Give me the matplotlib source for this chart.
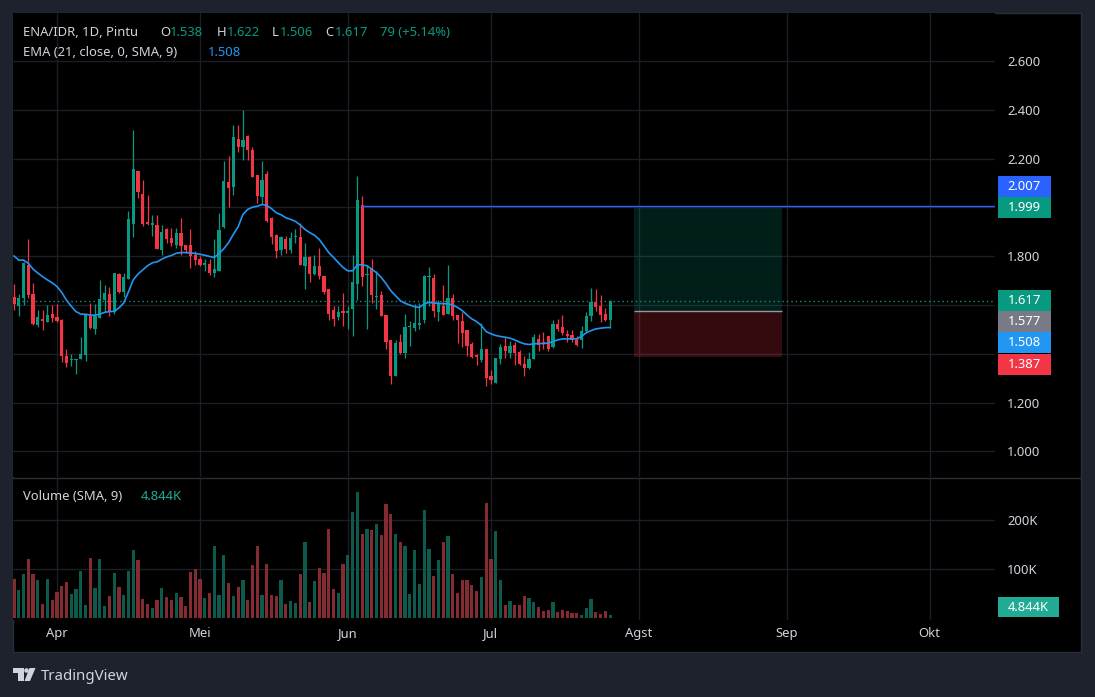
import pandas as pd
import matplotlib
matplotlib.use('Agg')
import matplotlib.pyplot as plt
import matplotlib.dates as mdates
from matplotlib.patches import Rectangle, Polygon, Ellipse
from matplotlib.lines import Line2D
from matplotlib.transforms import blended_transform_factory

plt.rcParams['font.family'] = ['Noto Sans', 'DejaVu Sans']

# ENA/IDR daily candles, 23 Mar - 26 Jul
first_day = '2024-03-23'
opens = [1.631, 1.597, 1.629, 1.765, 1.645, 1.520, 1.543, 1.532, 1.563, 1.550,
         1.540, 1.390, 1.374, 1.373, 1.377, 1.397, 1.556, 1.502, 1.547, 1.620,
         1.645, 1.570, 1.727, 1.652, 1.706, 1.933, 2.148, 2.057, 1.942, 1.930,
         1.930, 1.826, 1.910, 1.873, 1.846, 1.894, 1.846, 1.846, 1.805, 1.788,
         1.765, 1.767, 1.733, 1.740, 1.920, 2.103, 2.083, 2.282, 2.246, 2.291,
         2.237, 2.131, 2.042, 2.135, 1.955, 1.886, 1.826, 1.869, 1.824, 1.877,
         1.879, 1.761, 1.795, 1.727, 1.761, 1.720, 1.665, 1.580, 1.551, 1.573,
         1.569, 1.585, 1.686, 2.011, 1.722, 1.750, 1.631, 1.639, 1.559, 1.458,
         1.307, 1.450, 1.404, 1.508, 1.506, 1.520, 1.538, 1.713, 1.710, 1.572,
         1.595, 1.565, 1.629, 1.559, 1.533, 1.498, 1.441, 1.394, 1.376, 1.420,
         1.307, 1.281, 1.380, 1.434, 1.405, 1.437, 1.407, 1.359, 1.343, 1.377,
         1.461, 1.448, 1.473, 1.427, 1.522, 1.509, 1.482, 1.478, 1.458, 1.455,
         1.492, 1.557, 1.611, 1.594, 1.563, 1.538]
highs = [1.686, 1.645, 1.778, 1.869, 1.690, 1.580, 1.580, 1.600, 1.600, 1.604,
         1.543, 1.420, 1.400, 1.380, 1.468, 1.563, 1.608, 1.604, 1.702, 1.682,
         1.672, 1.733, 1.733, 1.733, 1.985, 2.318, 2.148, 2.114, 2.053, 1.971,
         1.967, 1.927, 1.917, 1.917, 1.917, 1.955, 1.846, 1.910, 1.822, 1.801,
         1.790, 1.788, 1.872, 1.978, 2.192, 2.212, 2.339, 2.339, 2.400, 2.298,
         2.248, 2.131, 2.189, 2.148, 1.961, 1.890, 1.884, 1.884, 1.901, 1.913,
         1.937, 1.856, 1.801, 1.804, 1.833, 1.720, 1.665, 1.594, 1.594, 1.651,
         1.594, 1.803, 2.128, 2.045, 1.763, 1.787, 1.739, 1.657, 1.559, 1.458,
         1.458, 1.481, 1.563, 1.536, 1.604, 1.608, 1.722, 1.754, 1.726, 1.622,
         1.683, 1.763, 1.645, 1.559, 1.572, 1.498, 1.450, 1.400, 1.527, 1.420,
         1.333, 1.384, 1.441, 1.468, 1.454, 1.448, 1.414, 1.393, 1.407, 1.481,
         1.481, 1.490, 1.473, 1.540, 1.543, 1.559, 1.498, 1.498, 1.473, 1.512,
         1.570, 1.669, 1.667, 1.640, 1.587, 1.622]
lows = [1.581, 1.556, 1.601, 1.629, 1.518, 1.509, 1.499, 1.529, 1.529, 1.529,
        1.366, 1.346, 1.352, 1.316, 1.377, 1.370, 1.502, 1.480, 1.547, 1.570,
        1.554, 1.563, 1.649, 1.634, 1.706, 1.880, 2.039, 1.924, 1.930, 1.883,
        1.829, 1.805, 1.856, 1.842, 1.833, 1.805, 1.812, 1.751, 1.765, 1.761,
        1.740, 1.724, 1.716, 1.738, 1.917, 2.001, 2.051, 2.227, 2.196, 2.196,
        2.124, 2.019, 2.015, 1.942, 1.849, 1.791, 1.805, 1.815, 1.815, 1.856,
        1.765, 1.665, 1.696, 1.721, 1.706, 1.645, 1.537, 1.516, 1.540, 1.516,
        1.502, 1.474, 1.621, 1.676, 1.502, 1.608, 1.584, 1.556, 1.418, 1.277,
        1.307, 1.401, 1.382, 1.434, 1.493, 1.502, 1.527, 1.595, 1.550, 1.535,
        1.558, 1.565, 1.538, 1.444, 1.429, 1.391, 1.384, 1.353, 1.366, 1.268,
        1.277, 1.281, 1.360, 1.382, 1.382, 1.353, 1.356, 1.307, 1.336, 1.377,
        1.411, 1.420, 1.411, 1.424, 1.495, 1.476, 1.448, 1.448, 1.434, 1.424,
        1.488, 1.536, 1.576, 1.531, 1.536, 1.506]
closes = [1.604, 1.627, 1.774, 1.642, 1.521, 1.550, 1.536, 1.559, 1.547, 1.533,
          1.389, 1.363, 1.378, 1.380, 1.400, 1.559, 1.505, 1.554, 1.624, 1.649,
          1.570, 1.733, 1.652, 1.713, 1.951, 2.159, 2.063, 1.933, 1.931, 1.932,
          1.829, 1.901, 1.869, 1.853, 1.894, 1.842, 1.826, 1.801, 1.785, 1.765,
          1.774, 1.733, 1.747, 1.906, 2.107, 2.078, 2.287, 2.246, 2.278, 2.237,
          2.124, 2.046, 2.114, 1.944, 1.879, 1.822, 1.879, 1.829, 1.873, 1.879,
          1.765, 1.795, 1.727, 1.761, 1.720, 1.653, 1.564, 1.543, 1.570, 1.569,
          1.575, 1.694, 2.031, 1.714, 1.728, 1.639, 1.635, 1.556, 1.450, 1.307,
          1.445, 1.405, 1.509, 1.510, 1.527, 1.527, 1.717, 1.716, 1.577, 1.603,
          1.561, 1.629, 1.555, 1.540, 1.486, 1.434, 1.387, 1.387, 1.420, 1.302,
          1.291, 1.384, 1.427, 1.411, 1.434, 1.405, 1.359, 1.343, 1.380, 1.468,
          1.438, 1.441, 1.418, 1.522, 1.502, 1.485, 1.475, 1.455, 1.438, 1.492,
          1.554, 1.614, 1.593, 1.560, 1.538, 1.617]
volumes_k = [79, 56, 89, 120, 89, 77, 28, 79, 36, 52,
             65, 73, 48, 58, 95, 26, 122, 61, 120, 24,
             44, 91, 63, 46, 95, 138, 118, 38, 28, 20,
             36, 61, 42, 36, 50, 42, 24, 93, 99, 79,
             40, 50, 146, 46, 128, 71, 44, 63, 77, 36,
             107, 146, 46, 110, 46, 44, 77, 28, 34, 30,
             89, 154, 32, 75, 101, 91, 181, 58, 50, 110,
             128, 216, 256, 171, 181, 179, 191, 169, 232, 212,
             171, 154, 146, 48, 138, 69, 220, 140, 85, 118,
             154, 167, 89, 50, 77, 77, 67, 54, 83, 234,
             120, 177, 77, 26, 34, 26, 26, 44, 40, 32,
             22, 14, 16, 32, 12, 16, 14, 10, 10, 5,
             20, 38, 12, 7, 14, 4.844]
ema21 = [1.801, 1.784, 1.784, 1.771, 1.747, 1.731, 1.716, 1.703, 1.691, 1.676,
         1.652, 1.620, 1.595, 1.573, 1.563, 1.562, 1.559, 1.558, 1.563, 1.570,
         1.573, 1.574, 1.588, 1.608, 1.654, 1.703, 1.727, 1.744, 1.761, 1.773,
         1.777, 1.788, 1.797, 1.803, 1.812, 1.815, 1.815, 1.814, 1.811, 1.808,
         1.804, 1.799, 1.795, 1.811, 1.831, 1.856, 1.890, 1.921, 1.971, 1.992,
         2.001, 2.005, 2.012, 2.008, 1.995, 1.978, 1.970, 1.958, 1.951, 1.943,
         1.928, 1.910, 1.897, 1.886, 1.869, 1.842, 1.815, 1.795, 1.774, 1.754,
         1.740, 1.740, 1.765, 1.765, 1.761, 1.747, 1.733, 1.713, 1.688, 1.659,
         1.638, 1.618, 1.607, 1.600, 1.593, 1.590, 1.604, 1.611, 1.608, 1.607,
         1.605, 1.605, 1.600, 1.590, 1.577, 1.559, 1.543, 1.532, 1.516, 1.491,
         1.482, 1.475, 1.471, 1.468, 1.464, 1.457, 1.448, 1.441, 1.438, 1.441,
         1.442, 1.442, 1.444, 1.450, 1.457, 1.461, 1.461, 1.461, 1.461, 1.472,
         1.486, 1.495, 1.502, 1.505, 1.507, 1.508]

alert_level = 2.007
alert_from = 73            # candle where the horizontal line starts
entry, target, stop = 1.577, 1.999, 1.387
pos_start, pos_end = '2024-07-31', '2024-08-31'

month_ticks = ['2024-04-01', '2024-05-01', '2024-06-01', '2024-07-01',
               '2024-08-01', '2024-09-01', '2024-10-01']
month_labels = ['Apr', 'Mei', 'Jun', 'Jul', 'Agst', 'Sep', 'Okt']
price_ticks = [1.0, 1.2, 1.4, 1.6, 1.8, 2.0, 2.2, 2.4, 2.6]
hidden_ticks = [1.4, 1.6, 2.0]   # covered by the price labels on the scale
volume_ticks = [100, 200]
volume_tick_labels = ['100K', '200K']

W, H = 1095, 697
UP, DOWN = '#089981', '#f23645'
VUP, VDOWN = '#0d5a4c', '#842b32'
TXT = '#d1d4dc'
GRID = '#1b1e25'
BORDER = '#2a2e39'
FS = 13 * 72 / 100


def fig_rect(l, t, r, b):
    return [l / W, 1 - b / H, (r - l) / W, (b - t) / H]


def fig_text(fig, x, y, s, color, size=FS, **kw):
    fig.text(x / W, 1 - y / H, s, color=color, fontsize=size, va='center', ha='left', **kw)


def price_box(ax, y_lab, s, color, width=0.054, height=0.086):
    tr = blended_transform_factory(ax.transAxes, ax.transData)
    ax.add_patch(Rectangle((1.003, y_lab - height / 2), width, height, transform=tr,
                           fc=color, ec='none', clip_on=False, zorder=10))
    ax.text(1.003 + width / 2, y_lab, s, transform=tr, color='white', fontsize=FS,
            ha='center', va='center', clip_on=False, zorder=11)


def main():
    dates = pd.date_range(first_day, periods=len(closes), freq='D')
    xs = mdates.date2num(dates)
    df = pd.DataFrame({'o': opens, 'h': highs, 'l': lows, 'c': closes,
                       'v': volumes_k, 'ema': ema21}, index=xs)
    up = df['c'] >= df['o']
    colors = [UP if u else DOWN for u in up]
    vcolors = [VUP if u else VDOWN for u in up]

    fig = plt.figure(figsize=(W / 100, H / 100), dpi=100, facecolor='#1e222d')
    fig.add_artist(Rectangle((13 / W, 1 - 652 / H), 1068 / W, 639 / H, transform=fig.transFigure,
                             fc='black', ec=BORDER, lw=1, zorder=-5))

    ax = fig.add_axes(fig_rect(13, 13, 995, 477))
    axv = fig.add_axes(fig_rect(13, 478, 995, 620), sharex=ax)
    for a in (ax, axv):
        a.set_facecolor('black')
        for sp in a.spines.values():
            sp.set_visible(False)
        a.tick_params(length=0, colors=TXT, labelsize=FS)
        a.yaxis.tick_right()

    x0 = xs[0]
    ax.set_xlim(x0 - 0.21, x0 + 205.7)
    ax.set_ylim(0.895, 2.797)
    axv.set_ylim(-4.7, 285)

    mt = mdates.date2num(pd.to_datetime(month_ticks))
    ax.set_xticks(mt)
    ax.tick_params(axis='x', labelbottom=False)
    axv.set_xticks(mt)
    axv.set_xticklabels(month_labels, fontweight='bold')
    axv.tick_params(axis='x', pad=5)

    ax.set_yticks(price_ticks)
    ax.set_yticklabels(['' if p in hidden_ticks else f'{p:.3f}' for p in price_ticks])
    ax.tick_params(axis='y', pad=8.6)
    axv.set_yticks(volume_ticks)
    axv.set_yticklabels(volume_tick_labels)
    axv.tick_params(axis='y', pad=8.6)
    for a in (ax, axv):
        a.grid(True, color=GRID, lw=1)
        a.set_axisbelow(True)

    # candles
    ax.vlines(df.index, df['l'], df['h'], colors=colors, lw=0.9, zorder=3)
    body_lo = df[['o', 'c']].min(axis=1)
    body_h = (df['c'] - df['o']).abs().clip(lower=0.0045)
    ax.bar(df.index, body_h, bottom=body_lo, width=0.68, color=colors, lw=0, zorder=4)
    ax.plot(df.index, df['ema'], color='#2196f3', lw=1.2, zorder=5)

    # long position tool
    ps, pe = mdates.date2num(pd.to_datetime([pos_start, pos_end]))
    ax.add_patch(Rectangle((ps, entry), pe - ps, target - entry, fc=(8 / 255, 153 / 255, 129 / 255, 0.2),
                           ec='none', zorder=2))
    ax.add_patch(Rectangle((ps, stop), pe - ps, entry - stop, fc=(242 / 255, 54 / 255, 69 / 255, 0.21),
                           ec='none', zorder=2))
    ax.hlines(entry, ps, pe, color='#9598a1', lw=1, zorder=3)

    ax.hlines(alert_level, xs[alert_from], x0 + 205.7, color='#2962ff', lw=1, zorder=5)
    ax.axhline(closes[-1], color=UP, lw=1, ls=(0, (1, 2.2)), zorder=2)

    # volume
    axv.bar(df.index, df['v'], width=0.68, color=vcolors, lw=0)

    # price scale labels (stacked like TradingView does)
    price_box(ax, 2.084, f'{alert_level:.3f}', '#2962ff')
    price_box(ax, 2.000, f'{target:.3f}', UP)
    price_box(ax, 1.618, f'{closes[-1]:.3f}', UP)
    price_box(ax, 1.532, f'{entry:.3f}', '#787b86')
    price_box(ax, 1.448, f'{ema21[-1]:.3f}', '#2196f3')
    price_box(ax, 1.357, f'{stop:.3f}', DOWN)
    trv = blended_transform_factory(axv.transAxes, axv.transData)
    axv.add_patch(Rectangle((1.003, 21.8 - 20.8), 0.062, 41.6, transform=trv, fc='#22ab94',
                            ec='none', clip_on=False, zorder=10))
    axv.text(1.003 + 0.031, 21.8, f'{volumes_k[-1]:.3f}K', transform=trv, color='white', fontsize=FS,
             ha='center', va='center', clip_on=False, zorder=11)

    # legends
    chg = closes[-1] - closes[-2]
    pct = chg / closes[-2] * 100
    parts = [('ENA/IDR, 1D, Pintu', 23, TXT), ('O', 160, TXT), (f'{opens[-1]:.3f}', 170, UP),
             ('H', 217, TXT), (f'{highs[-1]:.3f}', 227, UP), ('L', 272, TXT), (f'{lows[-1]:.3f}', 280, UP),
             ('C', 325, TXT), (f'{closes[-1]:.3f}', 335, UP), (f'{chg * 1000:.0f} ({pct:+.2f}%)', 380, UP)]
    for s, x, c in parts:
        fig_text(fig, x, 33, s, c)
    fig_text(fig, 23, 53, 'EMA (21, close, 0, SMA, 9)', TXT)
    fig_text(fig, 208, 53, f'{ema21[-1]:.3f}', '#2196f3')
    fig_text(fig, 23, 497, 'Volume (SMA, 9)', TXT)
    fig_text(fig, 141, 497, f'{volumes_k[-1]:.3f}K', '#22ab94')

    fig.add_artist(Line2D([13 / W, 1081 / W], [1 - 477.5 / H] * 2, color=BORDER, lw=1))

    # TradingView logo
    def p(x, y):
        return (x / W, 1 - y / H)
    logo = '#d1d4dc'
    fig.add_artist(Polygon([p(13, 668), p(23.5, 668), p(23.5, 681), p(17.5, 681), p(17.5, 673), p(13, 673)],
                           closed=True, transform=fig.transFigure, fc=logo, ec='none'))
    fig.add_artist(Ellipse(p(26.5, 670.5), 4.6 / W, 4.6 / H, transform=fig.transFigure, fc=logo, ec='none'))
    fig.add_artist(Polygon([p(29.5, 668), p(35.5, 668), p(30, 681), p(24.5, 681)],
                           closed=True, transform=fig.transFigure, fc=logo, ec='none'))
    fig_text(fig, 41, 676, 'TradingView', logo, size=15 * 72 / 100)

    fig.savefig('out.png', dpi=100, facecolor=fig.get_facecolor())


if __name__ == '__main__':
    main()
